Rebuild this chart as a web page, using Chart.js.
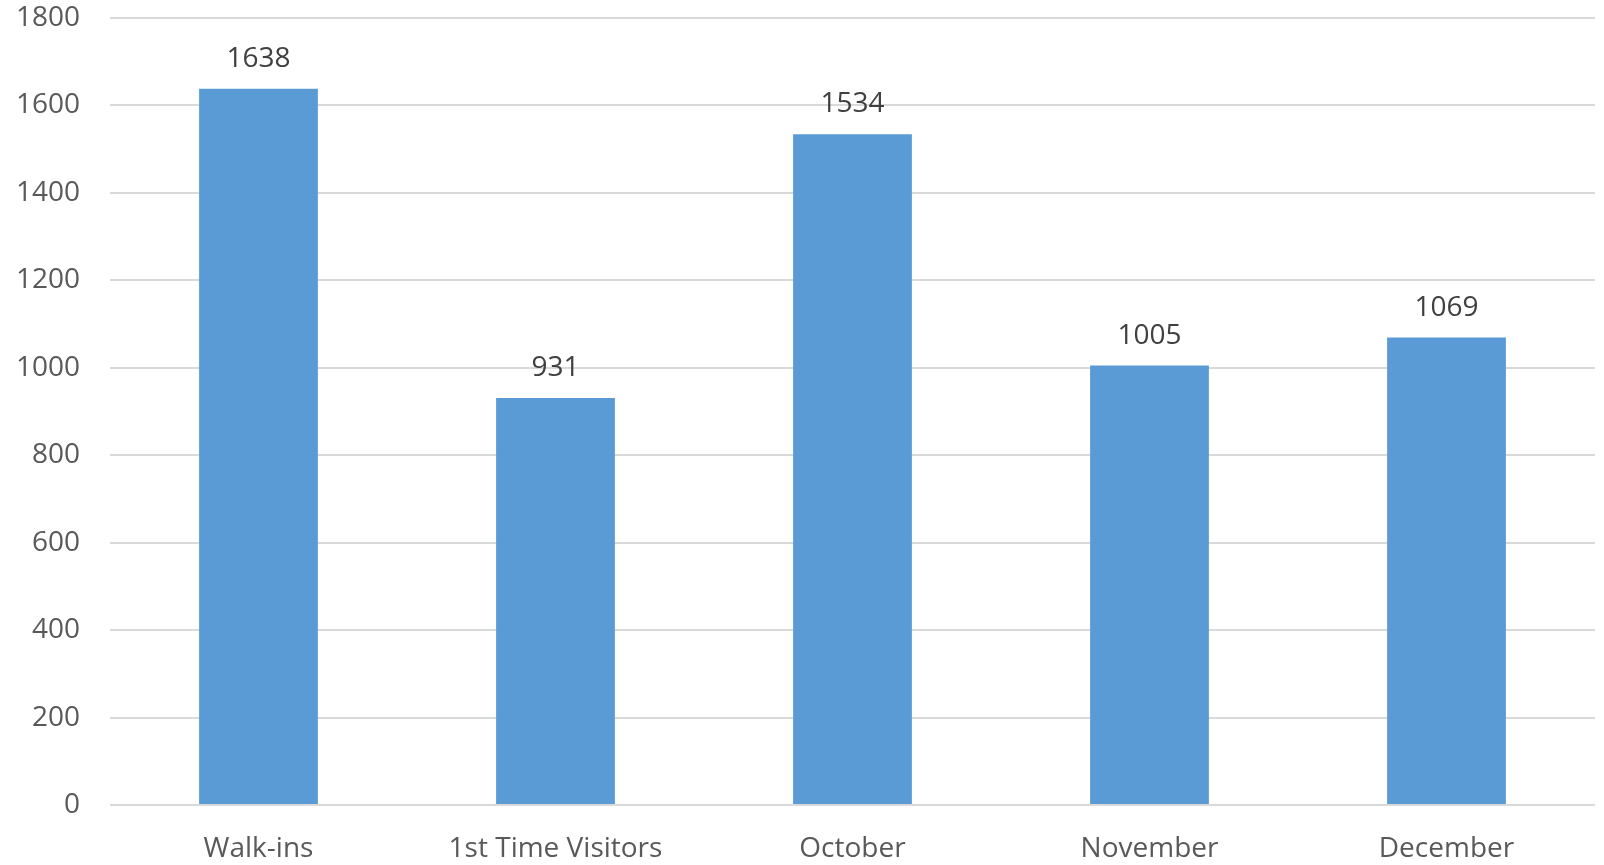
<!DOCTYPE html>
<html>
<head>
<meta charset="utf-8">
<script src="https://cdn.jsdelivr.net/npm/chart.js@4"></script>
<style>
  html, body { margin: 0; padding: 0; background: #fff; }
  #wrap { width: 1604px; height: 865px; }
</style>
</head>
<body>
<div id="wrap"><canvas id="visitsChart"></canvas></div>
<script>
// chart data
const categories = ['Walk-ins', '1st Time Visitors', 'October', 'November', 'December'];
const visits = [1638, 931, 1534, 1005, 1069];
const yTicks = [0, 200, 400, 600, 800, 1000, 1200, 1400, 1600, 1800];

const FONT = '"Open Sans", sans-serif';

// value labels above each bar
const barValues = {
  id: 'barValues',
  afterDatasetsDraw(chart) {
    const ctx = chart.ctx;
    const meta = chart.getDatasetMeta(0);
    ctx.save();
    ctx.font = '28px ' + FONT;
    ctx.fillStyle = '#404040';
    ctx.textAlign = 'center';
    ctx.textBaseline = 'middle';
    meta.data.forEach((bar, i) => {
      ctx.fillText(String(visits[i]), bar.x, bar.y - 30);
    });
    ctx.restore();
  }
};

new Chart(document.getElementById('visitsChart'), {
  type: 'bar',
  data: {
    labels: categories,
    datasets: [{
      data: visits,
      backgroundColor: '#5b9bd5',
      borderWidth: 0,
      categoryPercentage: 1,
      barPercentage: 0.4
    }]
  },
  options: {
    responsive: true, maintainAspectRatio: false,
    animation: false,
    layout: { padding: { top: 18, right: 9, left: 0, bottom: 0 } },
    plugins: { legend: { display: false }, tooltip: { enabled: false } },
    scales: {
      x: {
        grid: { display: false },
        border: { display: false },
        ticks: { color: '#595959', font: { family: FONT, size: 28 }, padding: 19, maxRotation: 0 },
        afterFit: s => { s.height = 60; s.paddingLeft = 0; s.paddingRight = 0; }
      },
      y: {
        min: 0, max: 1800,
        afterBuildTicks: s => { s.ticks = yTicks.map(v => ({ value: v })); },
        grid: { color: '#d9d9d9', lineWidth: 2, drawTicks: false },
        border: { display: false },
        ticks: { color: '#595959', font: { family: FONT, size: 28 }, padding: 30, callback: v => String(v) },
        afterFit: s => { s.width = 110; s.paddingTop = 0; s.paddingBottom = 0; }
      }
    }
  },
  plugins: [barValues]
});
</script>
</body>
</html>
